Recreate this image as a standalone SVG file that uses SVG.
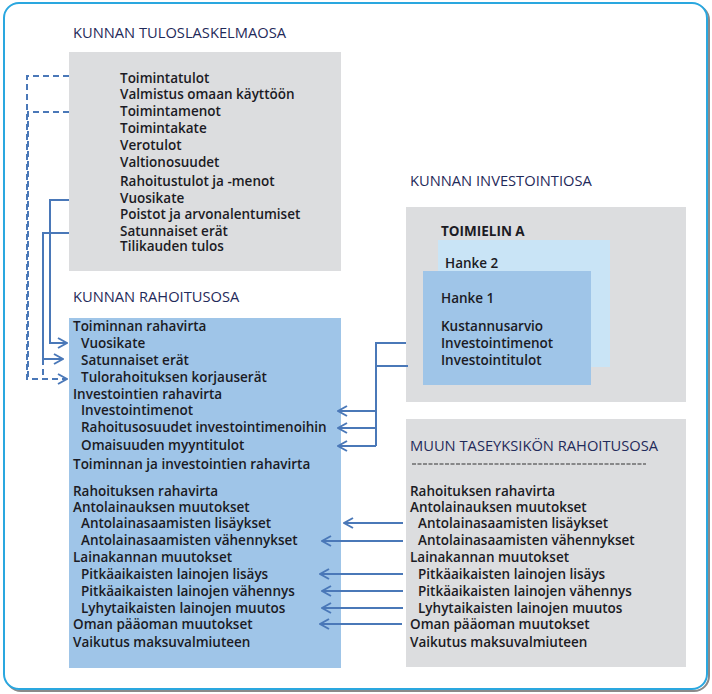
<svg xmlns="http://www.w3.org/2000/svg" width="712" height="694" viewBox="0 0 712 694">
<defs>
<style>
.t{font-family:"Open Sans","Liberation Sans",sans-serif;font-size:13.5px;font-weight:600;fill:#1b1b24}
.h{font-family:"Open Sans","Liberation Sans",sans-serif;font-size:14.7px;font-weight:500;fill:#1f2a5a}
.b{font-weight:700}
.gray{fill:#dcdddf}
.blue{fill:#9fc5e8}
.c{fill:none;stroke:#4a78b8;stroke-width:2}
.d{fill:none;stroke:#4a78b8;stroke-width:2;stroke-dasharray:6 4}
</style>
<marker id="ah" viewBox="0 0 12 12" refX="11" refY="6" markerWidth="12" markerHeight="12" markerUnits="userSpaceOnUse" orient="auto">
<polyline points="2,1 11,6 2,11" fill="none" stroke="#4a78b8" stroke-width="2"/>
</marker>
</defs>
<rect x="0" y="0" width="712" height="694" fill="#ffffff"/>
<rect x="6" y="5" width="703" height="686" rx="15" fill="none" stroke="#8a8a8a" stroke-width="2"/>
<rect x="4" y="3" width="703" height="686" rx="15" fill="#ffffff" stroke="#2aa7df" stroke-width="2"/>

<g id="tulos">
<rect class="gray" x="69" y="52" width="272" height="219"/>
<text class="h" x="73" y="38">KUNNAN TULOSLASKELMAOSA</text>
<text class="t" x="120" y="83">Toimintatulot</text>
<text class="t" x="120" y="99">Valmistus omaan käyttöön</text>
<text class="t" x="120" y="116">Toimintamenot</text>
<text class="t" x="120" y="133">Toimintakate</text>
<text class="t" x="120" y="150">Verotulot</text>
<text class="t" x="120" y="167">Valtionosuudet</text>
<text class="t" x="120" y="186">Rahoitustulot ja -menot</text>
<text class="t" x="120" y="203">Vuosikate</text>
<text class="t" x="120" y="219">Poistot ja arvonalentumiset</text>
<text class="t" x="120" y="236">Satunnaiset erät</text>
<text class="t" x="120" y="251">Tilikauden tulos</text>
</g>

<g id="rahoitus">
<rect class="blue" x="69" y="318" width="272" height="350"/>
<text class="h" x="73" y="302">KUNNAN RAHOITUSOSA</text>
<text class="t" x="73" y="331">Toiminnan rahavirta</text>
<text class="t" x="81" y="348">Vuosikate</text>
<text class="t" x="81" y="365">Satunnaiset erät</text>
<text class="t" x="81" y="382">Tulorahoituksen korjauserät</text>
<text class="t" x="73" y="399">Investointien rahavirta</text>
<text class="t" x="81" y="415">Investointimenot</text>
<text class="t" x="81" y="432">Rahoitusosuudet investointimenoihin</text>
<text class="t" x="81" y="450">Omaisuuden myyntitulot</text>
<text class="t" x="73" y="469">Toiminnan ja investointien rahavirta</text>
<text class="t" x="73" y="496">Rahoituksen rahavirta</text>
<text class="t" x="73" y="512">Antolainauksen muutokset</text>
<text class="t" x="81" y="528">Antolainasaamisten lisäykset</text>
<text class="t" x="81" y="545">Antolainasaamisten vähennykset</text>
<text class="t" x="73" y="562">Lainakannan muutokset</text>
<text class="t" x="81" y="579">Pitkäaikaisten lainojen lisäys</text>
<text class="t" x="81" y="596">Pitkäaikaisten lainojen vähennys</text>
<text class="t" x="81" y="613">Lyhytaikaisten lainojen muutos</text>
<text class="t" x="73" y="629">Oman pääoman muutokset</text>
<text class="t" x="73" y="647">Vaikutus maksuvalmiuteen</text>
</g>

<g id="investointi">
<text class="h" x="410" y="186">KUNNAN INVESTOINTIOSA</text>
<rect class="gray" x="406" y="207" width="280" height="195"/>
<text class="t b" x="441" y="236">TOIMIELIN A</text>
</g>
<g id="hanke2">
<rect x="438" y="240" width="172" height="127" fill="#c9e4f6"/>
<text class="t" x="445" y="268">Hanke 2</text>
</g>
<g id="hanke1">
<rect class="blue" x="423" y="271" width="168" height="114"/>
<text class="t" x="441" y="303">Hanke 1</text>
<text class="t" x="441" y="331">Kustannusarvio</text>
<text class="t" x="441" y="348">Investointimenot</text>
<text class="t" x="441" y="365">Investointitulot</text>
</g>

<g id="muun">
<rect class="gray" x="406" y="419" width="280" height="248"/>
<text class="h" x="410" y="451">MUUN TASEYKSIKÖN RAHOITUSOSA</text>
<line x1="412" y1="464" x2="646" y2="464" stroke="#333" stroke-width="1" stroke-dasharray="4 1.5"/>
<text class="t" x="410" y="496">Rahoituksen rahavirta</text>
<text class="t" x="410" y="512">Antolainauksen muutokset</text>
<text class="t" x="418" y="528">Antolainasaamisten lisäykset</text>
<text class="t" x="418" y="545">Antolainasaamisten vähennykset</text>
<text class="t" x="410" y="562">Lainakannan muutokset</text>
<text class="t" x="418" y="579">Pitkäaikaisten lainojen lisäys</text>
<text class="t" x="418" y="596">Pitkäaikaisten lainojen vähennys</text>
<text class="t" x="418" y="613">Lyhytaikaisten lainojen muutos</text>
<text class="t" x="410" y="629">Oman pääoman muutokset</text>
<text class="t" x="410" y="647">Vaikutus maksuvalmiuteen</text>
</g>

<g id="connectors">
<polyline class="d" points="69,76 27,76 27,379 67,379" marker-end="url(#ah)"/>
<polyline class="d" points="69,112 28,112 28,379"/>
<polyline class="d" points="43,359 43,379"/>
<polyline class="c" points="69,200 50,200 50,343 67,343" marker-end="url(#ah)"/>
<polyline class="c" points="69,233 43,233 43,359 63,359" marker-end="url(#ah)"/>
<polyline class="c" points="406,343 376,343 376,446"/>
<polyline class="c" points="408,366 376,366"/>
<line class="c" x1="376" y1="411" x2="338" y2="411" marker-end="url(#ah)"/>
<line class="c" x1="376" y1="428" x2="338" y2="428" marker-end="url(#ah)"/>
<line class="c" x1="376" y1="446" x2="338" y2="446" marker-end="url(#ah)"/>
<line class="c" x1="403" y1="523" x2="344" y2="523" marker-end="url(#ah)"/>
<line class="c" x1="403" y1="541" x2="322" y2="541" marker-end="url(#ah)"/>
<line class="c" x1="403" y1="574" x2="320" y2="574" marker-end="url(#ah)"/>
<line class="c" x1="403" y1="591" x2="322" y2="591" marker-end="url(#ah)"/>
<line class="c" x1="403" y1="608" x2="322" y2="608" marker-end="url(#ah)"/>
<line class="c" x1="402" y1="624" x2="320" y2="624" marker-end="url(#ah)"/>
</g>
</svg>
